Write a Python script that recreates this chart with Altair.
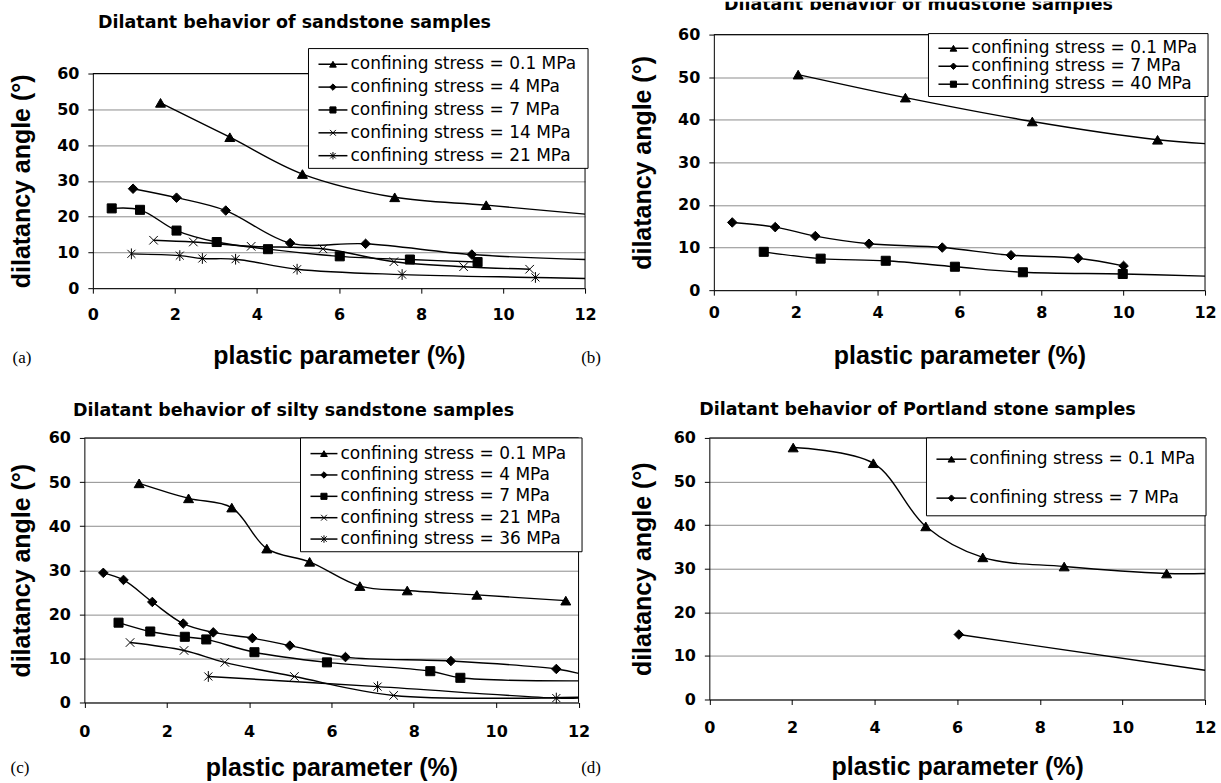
import altair as alt
import pandas as pd

SANS = "Liberation Sans"
WIDE = "DejaVu Sans"
SERIF = "Liberation Serif"

X_TICKS = [0, 2, 4, 6, 8, 10, 12]
Y_TICKS = [0, 10, 20, 30, 40, 50, 60]
X_TITLE = "plastic parameter (%)"
Y_TITLE = "dilatancy angle (°)"

# marker styles
MARKER_KEYS = ["triangle", "diamond", "square", "cross", "star"]
MARKER_PATHS = ["triangle-up", "diamond", "square",
                "M-1,-1L1,1M-1,1L1,-1",
                "M-1,-1L1,1M-1,1L1,-1M0,-1.35L0,1.35"]
MARKER_SIZES = [100, 64, 64, 85, 85]
LEGEND_SIZES = [45, 30, 32, 40, 40]

# ---------------- (a) sandstone ----------------
A_TITLE = "Dilatant behavior of sandstone samples"
A_LABELS = ["confining stress = 0.1 MPa", "confining stress = 4 MPa",
            "confining stress = 7 MPa", "confining stress = 14 MPa",
            "confining stress = 21 MPa"]
A_MARKERS = ["triangle", "diamond", "square", "cross", "star"]
A_X = [[1.65, 3.34, 5.11, 7.36, 9.59],
       [0.98, 2.04, 3.24, 4.81, 6.65, 9.24],
       [0.46, 1.15, 2.04, 3.02, 4.27, 6.02, 7.73, 9.38],
       [1.48, 2.45, 3.86, 5.61, 7.34, 9.04, 10.65],
       [0.94, 2.12, 2.67, 3.48, 4.98, 7.54, 10.79]]
A_Y = [[51.8, 42.2, 31.9, 25.4, 23.2],
       [27.8, 25.3, 21.7, 12.6, 12.4, 9.4],
       [22.3, 21.9, 16.1, 12.9, 10.9, 8.9, 8.0, 7.3],
       [13.4, 12.9, 11.7, 11.0, 7.4, 6.0, 5.3],
       [9.6, 9.1, 8.3, 8.1, 5.3, 3.8, 3.0]]
A_END = [20.7, 8.0, None, None, 2.7]   # where a curve runs on to x = 12

# ---------------- (b) mudstone ----------------
B_TITLE = "Dilatant behavior of mudstone samples"
B_LABELS = ["confining stress = 0.1 MPa", "confining stress = 7 MPa",
            "confining stress = 40 MPa"]
B_MARKERS = ["triangle", "diamond", "square"]
B_X = [[2.06, 4.68, 7.78, 10.84],
       [0.45, 1.50, 2.48, 3.79, 5.58, 7.26, 8.90, 10.01],
       [1.22, 2.61, 4.20, 5.89, 7.55, 9.99]]
B_Y = [[50.6, 45.2, 39.6, 35.3],
       [15.9, 14.8, 12.7, 10.9, 10.0, 8.2, 7.5, 5.7],
       [9.0, 7.4, 6.9, 5.5, 4.2, 3.8]]
B_END = [34.4, None, 3.3]

# ---------------- (c) silty sandstone ----------------
C_TITLE = "Dilatant behavior of silty sandstone samples"
C_LABELS = ["confining stress = 0.1 MPa", "confining stress = 4 MPa",
            "confining stress = 7 MPa", "confining stress = 21 MPa",
            "confining stress = 36 MPa"]
C_MARKERS = ["triangle", "diamond", "square", "cross", "star"]
C_X = [[1.33, 2.53, 3.58, 4.43, 5.47, 6.69, 7.84, 9.53, 11.69],
       [0.46, 0.95, 1.65, 2.40, 3.13, 4.08, 4.99, 6.34, 8.90, 11.46],
       [0.83, 1.60, 2.44, 2.96, 4.13, 5.89, 8.40, 9.13],
       [1.11, 2.42, 3.41, 5.10, 7.51],
       [3.01, 7.12, 11.46]]
C_Y = [[49.7, 46.3, 44.2, 34.9, 31.9, 26.4, 25.4, 24.4, 23.1],
       [29.4, 27.8, 22.8, 17.9, 15.9, 14.6, 12.9, 10.3, 9.4, 7.6],
       [18.1, 16.1, 14.9, 14.3, 11.4, 9.1, 7.1, 5.6],
       [13.6, 11.8, 9.1, 5.9, 1.6],
       [5.9, 3.6, 1.0]]
C_END = [None, 6.6, 4.9, 1.2, 1.0]

# ---------------- (d) Portland stone ----------------
D_TITLE = "Dilatant behavior of Portland stone samples"
D_LABELS = ["confining stress = 0.1 MPa", "confining stress = 7 MPa"]
D_MARKERS = ["triangle", "diamond"]
D_X = [[2.03, 3.97, 5.24, 6.62, 8.59, 11.07],
       [6.04]]
D_Y = [[57.8, 54.2, 39.7, 32.6, 30.5, 28.9],
       [14.9]]
D_END = [28.9, 6.7]


def build_frames(labels, markers, xs, ys, ends):
    pts, lines = [], []
    for lab, mk, sx, sy, end in zip(labels, markers, xs, ys, ends):
        for x, y in zip(sx, sy):
            row = {"series": lab, "marker": mk, "x": x, "y": y}
            pts.append(row)
            lines.append(row)
        if end is not None:
            lines.append({"series": lab, "marker": mk, "x": 12, "y": end})
    return pd.DataFrame(pts), pd.DataFrame(lines)


def panel(title, tag, labels, markers, xs, ys, ends, geo):
    pts, lines = build_frames(labels, markers, xs, ys, ends)
    w, h = geo["size"]
    x0, x12 = geo["xr"]
    y0, y60 = geo["yr"]

    xscale = alt.Scale(domain=[0, 12], range=[x0, x12], nice=False, zero=False)
    yscale = alt.Scale(domain=[0, 60], range=[y0, y60], nice=False)
    xaxis = alt.Axis(values=X_TICKS, format="d", offset=y0 - h, grid=False,
                     tickSize=5, tickColor="black", domainColor="black",
                     labelPadding=geo["xlp"], labelFont=WIDE, labelFontSize=16,
                     labelFontWeight="bold", labelColor="black",
                     labelFlush=False, labelOverlap=False,
                     title=X_TITLE, titleFont=SANS, titleFontSize=25,
                     titleFontWeight="bold", titleColor="black",
                     titlePadding=geo["xtp"])
    yaxis = alt.Axis(values=Y_TICKS, format="d", offset=-x0, grid=True,
                     gridColor="#8d8d8d", gridWidth=1,
                     tickSize=5, tickColor="black", domainColor="black",
                     labelPadding=geo["ylp"], labelFont=WIDE, labelFontSize=16,
                     labelFontWeight="bold", labelColor="black",
                     labelFlush=False, labelOverlap=False,
                     title=Y_TITLE, titleFont=SANS, titleFontSize=25,
                     titleFontWeight="bold", titleColor="black",
                     titlePadding=geo["ytp"])
    shape = alt.Shape("marker:N", legend=None,
                      scale=alt.Scale(domain=MARKER_KEYS, range=MARKER_PATHS))

    curves = alt.Chart(lines).mark_line(
        interpolate="catmull-rom", color="black", strokeWidth=1.4
    ).encode(
        x=alt.X("x:Q", scale=xscale, axis=xaxis),
        y=alt.Y("y:Q", scale=yscale, axis=yaxis),
        detail="series:N",
    )
    marks = alt.Chart(pts).mark_point(
        filled=True, color="black", stroke="black", strokeWidth=1, opacity=1
    ).encode(
        x=alt.X("x:Q", scale=xscale),
        y=alt.Y("y:Q", scale=yscale),
        shape=shape,
        size=alt.Size("marker:N", legend=None,
                      scale=alt.Scale(domain=MARKER_KEYS, range=MARKER_SIZES)),
    )
    frame = alt.Chart(pd.DataFrame({"x": [0, 12], "x2": [12, 12],
                                    "y": [60, 0], "y2": [60, 60]})).mark_rule(
        color="black", strokeWidth=1
    ).encode(x=alt.X("x:Q", scale=xscale), x2="x2:Q",
             y=alt.Y("y:Q", scale=yscale), y2="y2:Q")
    plot = alt.layer(frame, curves, marks)

    # legend box
    n = len(labels)
    leg = pd.DataFrame({"series": labels, "marker": markers, "row": list(range(n))})
    bx0, bx1, by0, by1 = geo["box"]
    lx0, lx1 = geo["sample"]
    rscale = alt.Scale(domain=[0, n - 1], range=list(geo["rows"]), nice=False, zero=False)
    box = alt.Chart(pd.DataFrame({"k": [0]})).mark_rect(
        fill="white", stroke="black", strokeWidth=1
    ).encode(x=alt.value(bx0), x2=alt.value(bx1), y=alt.value(by0), y2=alt.value(by1))
    samples = alt.Chart(leg).mark_rule(color="black", strokeWidth=1.5).encode(
        x=alt.value(lx0), x2=alt.value(lx1),
        y=alt.Y("row:Q", scale=rscale, axis=None))
    leg_marks = alt.Chart(leg).mark_point(
        filled=True, color="black", stroke="black", strokeWidth=1, opacity=1
    ).encode(
        x=alt.value((lx0 + lx1) / 2),
        y=alt.Y("row:Q", scale=rscale, axis=None),
        shape=shape,
        size=alt.Size("marker:N", legend=None,
                      scale=alt.Scale(domain=MARKER_KEYS, range=LEGEND_SIZES)),
    )
    leg_text = alt.Chart(leg).mark_text(
        align="left", baseline="middle", font=WIDE, fontSize=17, color="black"
    ).encode(x=alt.value(lx1 + 3), y=alt.Y("row:Q", scale=rscale, axis=None),
             text="series:N")
    tx, ty = geo["title"]
    heading = alt.Chart(pd.DataFrame({"t": [title]})).mark_text(
        align="center", baseline="middle", font=WIDE, fontSize=17.5,
        fontWeight="bold", color="black", clip=True
    ).encode(x=alt.value(tx), y=alt.value(ty), text="t:N")
    gx, gy = geo["tag"]
    letter = alt.Chart(pd.DataFrame({"t": [tag]})).mark_text(
        align="center", baseline="middle", font=SERIF, fontSize=17, color="black"
    ).encode(x=alt.value(gx), y=alt.value(gy), text="t:N")
    overlay = alt.layer(box, samples, leg_marks, leg_text, heading, letter)

    return alt.layer(plot, overlay).resolve_scale(
        y="independent", size="independent"
    ).properties(width=w, height=h)


GEO_A = dict(size=(600, 380), xr=(92, 585), yr=(287, 72), xlp=13, xtp=21, ylp=9, ytp=22,
             box=(308, 588, 47, 167), sample=(318, 347), rows=(62.7, 154.3),
             title=(294, 21), tag=(21, 357))
GEO_B = dict(size=(621, 380), xr=(114, 606), yr=(289, 33), xlp=9, xtp=23, ylp=9, ytp=22,
             box=(329, 609, 32, 95), sample=(339, 369), rows=(46.7, 82.7),
             title=(319, 3), tag=(-9, 357))
GEO_C = dict(size=(600, 403), xr=(83.5, 578.5), yr=(322, 57), xlp=16, xtp=16, ylp=9, ytp=14,
             box=(300, 582, 57, 171), sample=(310, 337), rows=(72.7, 158.3),
             title=(293, 30), tag=(19, 388))
GEO_D = dict(size=(621, 403), xr=(109.5, 606), yr=(319, 57), xlp=15, xtp=19, ylp=9, ytp=18,
             box=(327, 607, 57, 135), sample=(337, 367), rows=(78.3, 117.3),
             title=(318, 29), tag=(-9, 388))

pa = panel(A_TITLE, "(a)", A_LABELS, A_MARKERS, A_X, A_Y, A_END, GEO_A)
pb = panel(B_TITLE, "(b)", B_LABELS, B_MARKERS, B_X, B_Y, B_END, GEO_B)
pc = panel(C_TITLE, "(c)", C_LABELS, C_MARKERS, C_X, C_Y, C_END, GEO_C)
pd_ = panel(D_TITLE, "(d)", D_LABELS, D_MARKERS, D_X, D_Y, D_END, GEO_D)

chart = alt.concat(
    pa, pb, pc, pd_, columns=2, spacing=0, bounds="flush"
).properties(
    padding=0, background="white"
).configure_view(stroke="transparent")

chart.save("out.html", embed_options={"renderer": "svg", "actions": False})
